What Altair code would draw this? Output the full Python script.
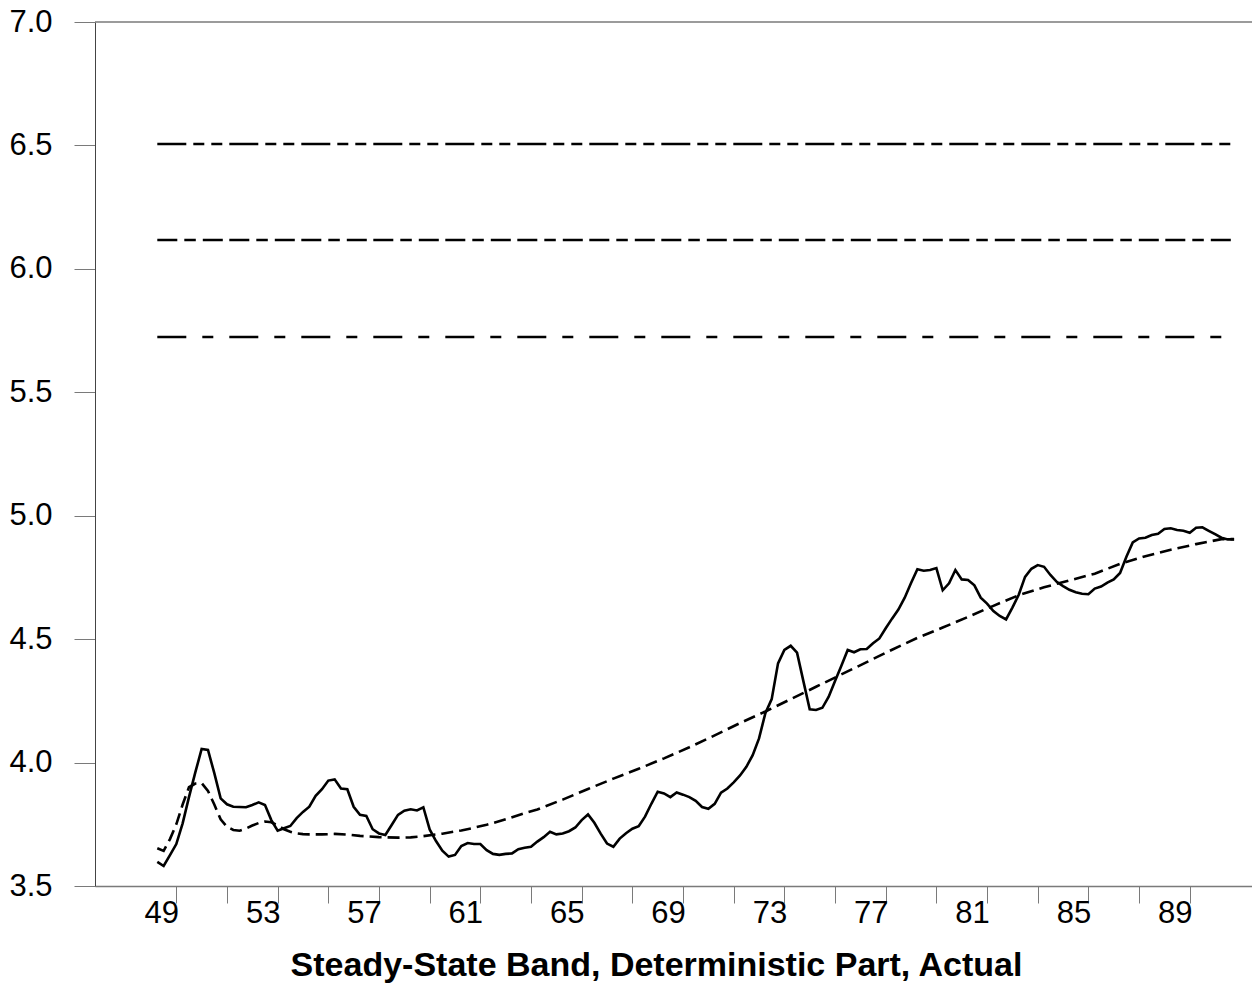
import altair as alt
import pandas as pd

# Quarterly observations, first quarter = 1948 Q2
FIRST_YEAR = 1948.25

actual = [
    3.598, 3.581, 3.625, 3.670, 3.754, 3.860, 3.960, 4.055, 4.051, 3.957,
    3.855, 3.831, 3.821, 3.820, 3.819, 3.828, 3.839, 3.828, 3.767, 3.724,
    3.734, 3.743, 3.775, 3.800, 3.821, 3.865, 3.892, 3.927, 3.932, 3.895,
    3.892, 3.821, 3.788, 3.784, 3.730, 3.713, 3.707, 3.747, 3.788, 3.805,
    3.811, 3.806, 3.819, 3.729, 3.682, 3.643, 3.619, 3.626, 3.662, 3.674,
    3.670, 3.670, 3.645, 3.630, 3.626, 3.630, 3.632, 3.649, 3.655, 3.659,
    3.680, 3.698, 3.720, 3.709, 3.713, 3.722, 3.737, 3.767, 3.790, 3.756,
    3.712, 3.672, 3.659, 3.692, 3.714, 3.732, 3.742, 3.781, 3.833, 3.882,
    3.875, 3.860, 3.879, 3.870, 3.860, 3.845, 3.820, 3.813, 3.833, 3.878,
    3.895, 3.920, 3.948, 3.983, 4.030, 4.098, 4.200, 4.257, 4.402, 4.456,
    4.473, 4.445, 4.330, 4.216, 4.213, 4.222, 4.267, 4.330, 4.392, 4.456,
    4.447, 4.459, 4.460, 4.483, 4.503, 4.544, 4.583, 4.620, 4.668, 4.727,
    4.783, 4.777, 4.780, 4.788, 4.698, 4.726, 4.780, 4.742, 4.740, 4.718,
    4.668, 4.644, 4.614, 4.594, 4.580, 4.628, 4.680, 4.752, 4.785, 4.800,
    4.793, 4.760, 4.732, 4.715, 4.700, 4.690, 4.684, 4.682, 4.705, 4.713,
    4.729, 4.742, 4.768, 4.834, 4.892, 4.908, 4.911, 4.922, 4.927, 4.946,
    4.949, 4.942, 4.939, 4.931, 4.951, 4.953, 4.939, 4.925, 4.911, 4.904,
    4.904,
]

# Deterministic part: quarter index and value
det_quarter = [
    0, 1, 2, 3, 4, 5, 6, 7, 8, 9, 10, 11, 12, 13, 14, 15, 16, 17, 18, 19,
    20, 21, 22, 23, 24, 26, 28, 30, 32, 35, 38, 40, 42, 45, 48, 50, 52, 55,
    58, 60, 64, 68, 72, 76, 80, 84, 88, 92, 96, 100, 104, 108, 112, 116,
    120, 124, 128, 132, 136, 140, 144, 148, 152, 156, 160, 164, 168, 170,
]
det_value = [
    3.653, 3.642, 3.690, 3.750, 3.830, 3.900, 3.915, 3.917, 3.885, 3.830,
    3.770, 3.740, 3.727, 3.724, 3.733, 3.745, 3.755, 3.761, 3.758, 3.745,
    3.730, 3.720, 3.713, 3.710, 3.709, 3.709, 3.711, 3.708, 3.703, 3.698,
    3.696, 3.697, 3.702, 3.712, 3.725, 3.736, 3.748, 3.770, 3.795, 3.810,
    3.850, 3.893, 3.935, 3.975, 4.017, 4.062, 4.110, 4.160, 4.207, 4.257,
    4.307, 4.357, 4.407, 4.457, 4.505, 4.547, 4.590, 4.635, 4.678, 4.710,
    4.738, 4.765, 4.805, 4.836, 4.862, 4.885, 4.905, 4.905,
]

# Steady-state band (upper, centre, lower)
band_levels = [6.506, 6.117, 5.724]
band_dashes = [[29, 7, 11, 7, 11, 7], [20, 7, 11.5, 7, 20, 6.5], [29, 16, 11, 16]]

y_ticks = [3.5, 4.0, 4.5, 5.0, 5.5, 6.0, 6.5, 7.0]
year_ticks = list(range(1949, 1991))
first_labelled = 1949

x_title = "Steady-State Band, Deterministic Part, Actual"

W, H = 1157, 864
GREY = "#7a7a7a"
FONT = "Liberation Sans"

actual_df = pd.DataFrame({
    "year": [FIRST_YEAR + i / 4 for i in range(len(actual))],
    "value": actual,
})
det_df = pd.DataFrame({
    "year": [FIRST_YEAR + q / 4 for q in det_quarter],
    "value": det_value,
})
x_start = actual_df["year"].iloc[0]
x_end = actual_df["year"].iloc[-1]

x_scale = alt.Scale(domain=[1945.791, 1991.457], nice=False, zero=False)
y_scale = alt.Scale(domain=[3.5, 7.0], nice=False, zero=False)

x_axis = alt.Axis(
    values=year_ticks,
    format="d",
    labelExpr=f"(datum.value - {first_labelled}) % 4 === 0 ? slice(datum.label, 2) : ''",
    labelOverlap=False,
    labelFlush=False,
    labelOffset=-15,
    labelPadding=-5,
    labelFont=FONT,
    labelFontSize=31,
    labelColor="black",
    tickSize=17,
    tickColor=GREY,
    tickWidth=1,
    domainColor=GREY,
    domainWidth=1.5,
    grid=False,
    title=x_title,
    titleFont=FONT,
    titleFontSize=34,
    titleFontWeight="bold",
    titleColor="black",
    titleAnchor="start",
    titleAlign="center",
    titleBaseline="alphabetic",
    titleX=561,
    titleY=89,
)
y_axis = alt.Axis(
    values=y_ticks,
    format=".1f",
    labelFont=FONT,
    labelFontSize=31,
    labelColor="black",
    labelPadding=22,
    tickSize=21,
    tickColor=GREY,
    tickWidth=1,
    domainColor="#444444",
    domainWidth=1,
    grid=False,
    title=None,
)

x_enc = alt.X("year:Q", scale=x_scale, axis=x_axis)
y_enc = alt.Y("value:Q", scale=y_scale, axis=y_axis)

actual_line = alt.Chart(actual_df).mark_line(
    color="black", strokeWidth=2.6, strokeJoin="miter"
).encode(x=x_enc, y=y_enc)

det_line = alt.Chart(det_df).mark_line(
    color="black", strokeWidth=2.6, strokeDash=[12, 6]
).encode(x=alt.X("year:Q", scale=x_scale), y=alt.Y("value:Q", scale=y_scale))

band_layers = []
for level, dash in zip(band_levels, band_dashes):
    bdf = pd.DataFrame({"start": [x_start], "end": [x_end], "value": [level]})
    band_layers.append(
        alt.Chart(bdf).mark_rule(color="black", strokeWidth=2.6, strokeDash=dash).encode(
            x=alt.X("start:Q", scale=x_scale),
            x2="end:Q",
            y=alt.Y("value:Q", scale=y_scale),
        )
    )

top_frame = alt.Chart(pd.DataFrame({"v": [7.0]})).mark_rule(
    color=GREY, strokeWidth=1.5
).encode(x=alt.value(0), x2=alt.value(W), y=alt.value(0))

chart = alt.layer(top_frame, *band_layers, det_line, actual_line).properties(
    width=W,
    height=H,
    padding={"left": 95, "top": 22, "right": 0, "bottom": 104},
    autosize=alt.AutoSizeParams(type="none"),
    background="white",
).configure_view(stroke=None)

chart.save("out.html", embed_options={"renderer": "svg", "actions": False})
